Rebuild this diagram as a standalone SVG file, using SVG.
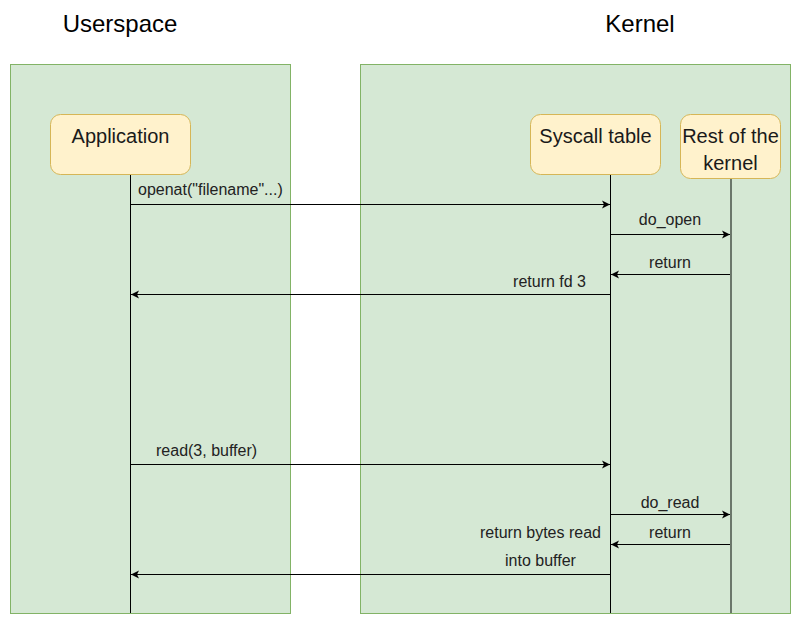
<svg xmlns="http://www.w3.org/2000/svg" width="801" height="626" viewBox="0 0 801 626">
<defs>
<marker id="ah" markerWidth="10" markerHeight="10" refX="9" refY="5" orient="auto" markerUnits="userSpaceOnUse">
<path d="M1,1 L9,5 L1,9 L3,5 Z" fill="#000"/>
</marker>
<style>
.zone{fill:#d5e8d4;stroke:#82b366;stroke-width:1}
.node{fill:#fff2cc;stroke:#d6b656;stroke-width:1}
.title{font-family:"Liberation Sans",Arial,sans-serif;font-size:24px;fill:#000}
.ntext{font-family:"Liberation Sans",Arial,sans-serif;font-size:20px;fill:#1a1a1a;text-anchor:middle}
.lbl{font-family:"Liberation Sans",Arial,sans-serif;font-size:16px;fill:#222}
.life{stroke:#000;stroke-width:1;fill:none}
.msg{stroke:#000;stroke-width:1;fill:none;marker-end:url(#ah)}
</style>
</defs>
<rect width="801" height="626" fill="#fff"/>
<text class="title" x="120" y="32" text-anchor="middle">Userspace</text>
<text class="title" x="640" y="32" text-anchor="middle">Kernel</text>
<g id="userspace"><rect class="zone" x="10.5" y="64.5" width="280" height="549"/></g>
<g id="kernel"><rect class="zone" x="360.5" y="64.5" width="430" height="549"/></g>
<g id="connectors">
<line class="life" x1="130.5" y1="174" x2="130.5" y2="613"/>
<line class="life" x1="610.5" y1="174" x2="610.5" y2="613"/>
<line x1="731" y1="178" x2="731" y2="613" stroke="#6b776b" stroke-width="2"/>
<line class="msg" x1="130.5" y1="204.5" x2="610" y2="204.5"/>
<line class="msg" x1="610.5" y1="234.5" x2="730" y2="234.5"/>
<line class="msg" x1="730" y1="274.5" x2="611" y2="274.5"/>
<line class="msg" x1="610.5" y1="294.5" x2="131" y2="294.5"/>
<line class="msg" x1="130.5" y1="464.5" x2="610" y2="464.5"/>
<line class="msg" x1="610.5" y1="514.5" x2="730" y2="514.5"/>
<line class="msg" x1="730" y1="544.5" x2="611" y2="544.5"/>
<line class="msg" x1="610.5" y1="574.5" x2="131" y2="574.5"/>
<text class="lbl" x="138" y="195">openat("filename"...)</text>
<text class="lbl" x="670" y="225" text-anchor="middle">do_open</text>
<text class="lbl" x="670" y="268" text-anchor="middle">return</text>
<text class="lbl" x="586" y="287" text-anchor="end">return fd 3</text>
<text class="lbl" x="156" y="456">read(3, buffer)</text>
<text class="lbl" x="670" y="508" text-anchor="middle">do_read</text>
<text class="lbl" x="670" y="538" text-anchor="middle">return</text>
<text class="lbl" x="540.5" y="538" text-anchor="middle">return bytes read</text>
<text class="lbl" x="540.5" y="566" text-anchor="middle">into buffer</text>
</g>
<g id="application"><rect class="node" x="50.5" y="114.5" width="140" height="60" rx="10"/><text class="ntext" x="120.5" y="143">Application</text></g>
<g id="syscall"><rect class="node" x="530.5" y="114.5" width="130" height="60" rx="10"/><text class="ntext" x="595.5" y="143">Syscall table</text></g>
<g id="rest"><rect class="node" x="680.5" y="114.5" width="100" height="64" rx="10"/><text class="ntext" x="730.5" y="143">Rest of the</text><text class="ntext" x="730.5" y="170">kernel</text></g>
</svg>
